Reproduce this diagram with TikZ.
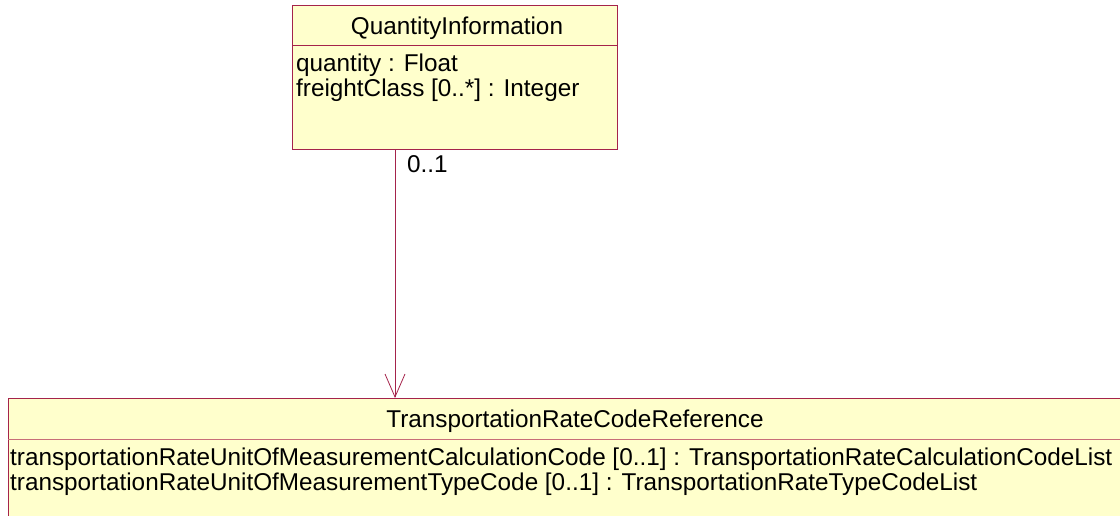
\documentclass[tikz,border=0pt]{standalone}
\usepackage{fontspec}
\setmainfont{Liberation Sans}
\usetikzlibrary{arrows.meta}
\definecolor{umlfill}{RGB}{255,255,204}
\definecolor{umlline}{RGB}{165,35,75}
\definecolor{umlsep}{RGB}{200,110,120}
\begin{document}
\begin{tikzpicture}[x=1pt,y=-1pt,
  classbox/.style={draw=umlline,fill=umlfill,line width=1pt},
  sepline/.style={draw=umlline,line width=1pt},
  txt/.style={inner sep=0pt,anchor=base west,font=\fontsize{24.3}{24.3}\selectfont},
  ttl/.style={inner sep=0pt,anchor=base,font=\fontsize{24.3}{24.3}\selectfont},
  assoc/.style={draw=umlline,line width=0.8pt}]
\useasboundingbox (0,0) rectangle (1120,515);
% top class
\path[classbox] (292,5) rectangle (617,149);
\draw[sepline] (292,45) -- (617,45);
\node[ttl] (qi) at (457,34) {QuantityInformation};
\node[txt] (qa1) at (296,71) {quantity : Float};
\node[txt] (qa2) at (296,96) {freightClass [0..*] : Integer};
\coordinate (qbot) at (395,149);
% bottom class
\path[classbox] (8,398) rectangle (1130,530);
\draw[draw=umlsep,line width=1pt] (8,439) -- (1130,439);
\node[ttl] (tr) at (575,427) {TransportationRateCodeReference};
\node[txt] (ta1) at (10,465) {transportationRateUnitOfMeasurementCalculationCode [0..1] : TransportationRateCalculationCodeList};
\node[txt] (ta2) at (10,490) {transportationRateUnitOfMeasurementTypeCode [0..1] : TransportationRateTypeCodeList};
\coordinate (tbot) at (395,398);
% association
\draw[assoc,-{Straight Barb[length=23pt,width=20pt,line width=0.8pt]}] (qbot) -- (tbot);
\node[txt] (m1) at (407,172) {0..1};
\end{tikzpicture}
\end{document}
